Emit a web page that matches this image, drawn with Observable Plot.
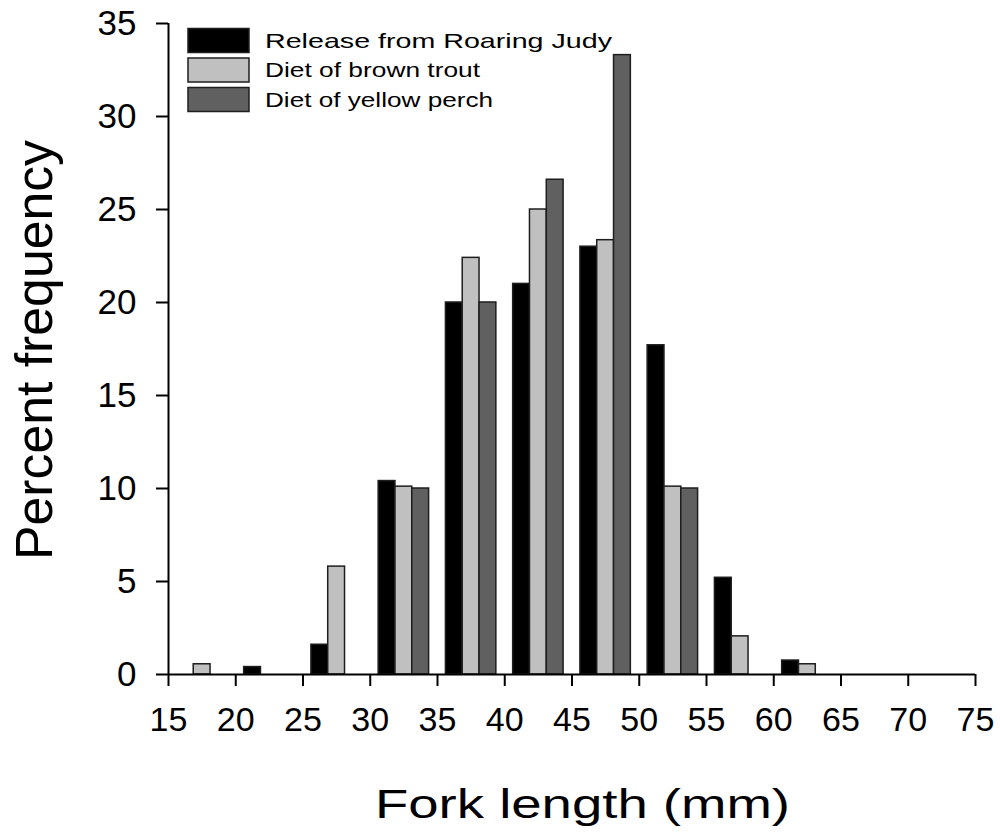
<!DOCTYPE html>
<html><head><meta charset="utf-8">
<script src="https://cdn.jsdelivr.net/npm/d3@7"></script>
<script src="https://cdn.jsdelivr.net/npm/@observablehq/plot@0.6"></script>
<style>html,body{margin:0;padding:0;background:#fff;} #chart{width:1000px;height:836px;}</style>
</head><body><div id="chart"></div>
<script>
// ---- data ----
const bins = [15, 20, 25, 30, 35, 40, 45, 50, 55, 60, 65, 70];
const series = ["Release from Roaring Judy", "Diet of brown trout", "Diet of yellow perch"];
const releaseRoaringJudy = [0, 0.4, 1.6, 10.4, 20.0, 21.0, 23.0, 17.7, 5.2, 0.75, 0, 0];
const dietBrownTrout     = [0.55, 0, 5.8, 10.1, 22.4, 25.0, 23.35, 10.1, 2.05, 0.55, 0, 0];
const dietYellowPerch    = [0, 0, 0, 10.0, 20.0, 26.6, 33.3, 10.0, 0, 0, 0, 0];
const fills = ["#000000", "#c0c0c0", "#606060"];
const xTicks = [15, 20, 25, 30, 35, 40, 45, 50, 55, 60, 65, 70, 75];
const yTicks = [0, 5, 10, 15, 20, 25, 30, 35];
const xLabel = "Fork length (mm)";
const yLabel = "Percent frequency";
const binWidth = 5;

const values = [releaseRoaringJudy, dietBrownTrout, dietYellowPerch];
const rows = [];
series.forEach((s, i) => {
  bins.forEach((b, j) => {
    const v = values[i][j];
    if (v > 0) {
      const x1 = b + binWidth * (0.125 + 0.25 * i);
      rows.push({series: s, bin: b, value: v, x1, x2: x1 + 0.25 * binWidth});
    }
  });
});

const font = "'Liberation Sans', Arial, sans-serif";
const plot = Plot.plot({
  width: 1000, height: 836,
  marginLeft: 168, marginRight: 25, marginTop: 23, marginBottom: 162,
  x: {domain: [15, 75]},
  y: {domain: [0, 35]},
  color: {domain: series, range: fills},
  style: {fontFamily: font, fontSize: "34px", color: "#000", background: "#fff"},
  marks: [
    Plot.rectY(rows, {x1: "x1", x2: "x2", y1: 0, y2: "value", fill: "series", stroke: "#1e1e1e", strokeWidth: 1.5}),
    Plot.ruleY([0], {stroke: "#000", strokeWidth: 2}),
    Plot.ruleX([15], {stroke: "#000", strokeWidth: 2}),
    Plot.axisX({ticks: xTicks, tickSize: 12, tickPadding: 20, label: null, fontSize: 34, tickFormat: d => String(d)}),
    Plot.axisY({ticks: yTicks, tickSize: 12, tickPadding: 20, label: null, fontSize: 35, tickFormat: d => String(d)})
  ]
});
document.getElementById("chart").appendChild(plot);

const svg = d3.select(plot);
svg.selectAll('g[aria-label="x-axis tick"] path, g[aria-label="y-axis tick"] path')
  .attr("stroke-width", 2).attr("stroke", "#000");

// axis titles
svg.append("text")
  .attr("x", 375).attr("y", 818)
  .attr("text-anchor", "start")
  .attr("font-family", font).attr("font-size", 40).attr("fill", "#000")
  .attr("textLength", 415).attr("lengthAdjust", "spacingAndGlyphs")
  .text(xLabel);
svg.append("text")
  .attr("transform", "translate(52,350) rotate(-90)")
  .attr("text-anchor", "middle")
  .attr("font-family", font).attr("font-size", 52).attr("fill", "#000")
  .attr("textLength", 420).attr("lengthAdjust", "spacingAndGlyphs")
  .text(yLabel);

// legend
const color = plot.scale("color");
const legendWidths = [347, 215, 228];
const lg = svg.append("g").attr("aria-label", "legend").attr("text-anchor", "start");
series.forEach((s, i) => {
  const y = 28.5 + i * 29.5;
  lg.append("rect").attr("x", 188).attr("y", y).attr("width", 61).attr("height", 24)
    .attr("fill", color.apply(s)).attr("stroke", "#1e1e1e").attr("stroke-width", 1.5);
  lg.append("text").attr("x", 265).attr("y", y + 12).attr("dy", "0.35em")
    .attr("text-anchor", "start")
    .attr("font-family", font).attr("font-size", 21).attr("fill", "#000")
    .attr("textLength", legendWidths[i]).attr("lengthAdjust", "spacingAndGlyphs")
    .text(s);
});
</script>
</body></html>
